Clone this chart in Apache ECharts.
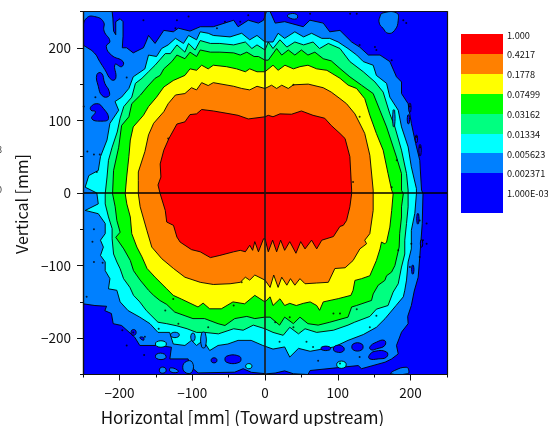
<!DOCTYPE html>
<html><head><meta charset="utf-8">
<style>html,body{margin:0;padding:0;background:#fff}#c{width:548px;height:426px}</style>
<script src="https://cdn.jsdelivr.net/npm/echarts@6/dist/echarts.min.js"></script>
</head><body><div id="c"></div>
<script>
const majorTicks=[-200,-100,0,100,200];
const minorTicks=[-250,-150,-50,50,150,250];
const legendLabels=['1.000','0.4217','0.1778','0.07499','0.03162','0.01334','0.005623','0.002371','1.000E-03'];
const legendColors=['#ff0000','#ff8000','#ffff00','#00ff00','#00ff80','#00ffff','#0080ff','#0000ff'];
const contourAzure=[[-250,250],[-210,250],[-209,241],[-208,223],[-205,218],[-205,236],[-199,240],[-195,236],[-195,216],[-196,200],[-190,200],[-181,193],[-167,200],[-163,209],[-160,217],[-151,206],[-139,224],[-126,222],[-119,227],[-103,223],[-89,229],[-71,229],[-43,238],[-37,229],[-23,238],[-9,234],[-2,238],[2,250],[7,250],[14,234],[27,236],[52.5,229],[61.7,238],[80,234],[89,222],[103,224],[119,208],[130,201],[142,190],[158,190],[171.5,181],[180.6,160],[187.5,153],[187.5,137],[196.6,123],[201,96],[207,68],[212.6,45],[215,4],[217,-1],[216,-42],[212.6,-88],[210.4,-116],[205,-135],[201,-155],[196,-170],[196.6,-180],[187.5,-191.7],[180.6,-210],[183,-221.6],[174,-228.5],[165,-233],[132.6,-242],[128,-237.7],[62,-244.5],[59,-250],[39,-249],[27,-245],[14,-248],[2,-249],[-18.7,-247],[-30,-242],[-41.6,-246.8],[-92,-247.8],[-98.7,-242],[-103,-237.7],[-105.6,-228.5],[-130.7,-228.5],[-128.5,-212.4],[-147,-210],[-172,-210],[-179,-198.6],[-197,-182.5],[-208.5,-180],[-211,-166],[-220,-162],[-217.6,-156],[-233.6,-155],[-250,-152.6]];
const contourCyan=[[0,208],[11,208],[18,220],[27,213],[41,222],[53,215],[64,220],[78,213],[89,213],[100.5,208],[114,199],[126,190],[135,181],[148.6,176],[153,162],[167,151],[171.5,132],[183,114],[187.5,91],[196.6,63.5],[201,36],[208,6],[208,-1],[205.8,-28],[201,-51.5],[201,-77],[196.6,-95],[194.4,-120],[192,-134],[190,-143],[180,-155],[165,-173],[153,-185],[135,-195],[114,-203],[95,-212],[62,-218],[46,-214],[34,-226],[27,-212],[11,-215],[-3,-210],[-19,-203],[-37,-203],[-51,-208],[-64.5,-210],[-76,-217],[-85,-203],[-94,-210],[-101,-203],[-110,-210],[-126,-208],[-131,-192],[-147,-192],[-158,-180],[-172,-171],[-188,-162],[-199,-150],[-203.5,-134],[-215,-132],[-213,-118],[-219.5,-107],[-219.5,-95],[-226,-86],[-222,-74.5],[-226,-65],[-219.5,-56],[-219.5,-42],[-229,-28.5],[-247,-24],[-229,-15],[-231,0],[-247,8],[-242,24],[-229,31],[-226,50],[-217,73],[-213,96],[-201,114],[-206,126],[-197,132],[-187,144],[-181,160],[-165,171],[-160,190],[-149,188],[-142,199],[-133,204],[-123,213],[-112,206],[-105,217],[-94,211],[-89,222],[-78,220],[-71,217],[-48,215],[-32,220],[-21,211],[-11,217]];
const contourSpring=[[0,197],[4.5,208],[11,199],[20.5,211],[30,201],[41,208],[53,204],[66,208],[75,199],[87,206],[103,199],[116.6,181],[135,167],[151,153],[162.3,139],[171.5,109],[178.4,91],[187.5,59],[194.4,26.7],[196.6,4],[196.6,-1],[196.6,-19],[194.4,-42],[192,-65],[192,-84],[187.5,-102],[183,-125],[176,-136.5],[169,-155],[153,-160],[144,-170],[123,-178],[114,-182],[94,-189],[71,-192],[55,-187],[46,-194],[34,-185],[25,-196],[11,-192],[0,-187],[-16,-182],[-30,-189],[-43,-187],[-64,-194],[-83,-192],[-94,-192],[-107,-187],[-121,-183],[-135,-180],[-147,-178],[-163,-162],[-172,-150],[-180.6,-141],[-185.6,-130],[-194.3,-118],[-199,-104.4],[-203.5,-95],[-208,-84],[-210,-63],[-210,-49],[-215,-33],[-219.5,-15],[-219.5,-1],[-217,22],[-215,45],[-210,63],[-203,84],[-199,103],[-194,119],[-183,132],[-178,151],[-169,158],[-160,167],[-151,176],[-137,192],[-130,192],[-121,204],[-110,194],[-105,206],[-96,197],[-89,210],[-75,206],[-62,206],[-43,204],[-27,208],[-18,199],[-11,204]];
const contourGreen=[[0,183],[4.5,183],[16,199],[23,190],[32,197],[41,190],[50,197],[59,190],[68.5,194],[80,185],[91,182],[103,171.5],[116.6,160],[132.6,148.5],[148.6,137],[157.8,114],[167,91],[180.6,49.6],[187.5,26.7],[187.5,3.7],[190,-1],[187.5,-19],[187.5,-33],[185,-56],[184.3,-74.5],[178.4,-100],[173.8,-109],[167,-114],[164.6,-120.4],[155.5,-127],[148.6,-139],[146.3,-148],[125.8,-155],[119,-157],[114,-171],[89,-178],[73,-182],[59,-180],[48,-171],[39,-180],[27,-171],[20,-182],[7,-171],[-0.5,-171],[-14,-173],[-25,-170],[-41.6,-173],[-55,-182.5],[-64.5,-180],[-83,-173],[-99,-173],[-124,-164],[-135,-153.5],[-144.5,-148],[-153,-141],[-160,-134],[-171.5,-120],[-180.6,-107],[-185,-93],[-194,-77],[-205,-61],[-199,-54],[-203.5,-38],[-205.8,-19],[-209.4,-1],[-208,31],[-201,63],[-197,93],[-187,105],[-183,123],[-171,135],[-162,146],[-151,158],[-144,162],[-139,171],[-128,181],[-121,190],[-110,185],[-103,194],[-94,188],[-89,197],[-75,194],[-62,194],[-43,193],[-34,190],[-25,194],[-15,188],[-9,188]];
const contourYellow=[[0,167],[11,176],[18,169],[27.4,176],[39,171],[48,174],[59,176],[71,171],[85,169],[103,158],[114.3,148.5],[125.8,144],[137,130],[144,107],[153,82],[162.3,59],[169,26.7],[174,3.7],[176,-1],[174,-24],[171.5,-47],[167,-67.6],[164.6,-70],[160,-67.6],[158,-77],[153,-93],[144,-114],[132.6,-118],[123.5,-120.4],[121,-134],[118,-141],[100.6,-145.5],[80,-150],[75,-161.6],[71,-155],[62,-150],[52.6,-152],[43,-155],[34,-152],[27,-155],[20.6,-145.7],[11,-155],[7,-143],[0,-150],[-14,-141],[-28,-152.6],[-44,-150],[-60,-159.5],[-76,-159.5],[-85,-151.7],[-92,-157],[-115,-146],[-126,-141],[-135,-132],[-151,-116],[-162,-104],[-169,-88],[-176,-74.5],[-183,-56],[-185,-33],[-189.8,-15],[-192,-1],[-190,22],[-187,50],[-185,73],[-181,91],[-167,107],[-160,119],[-149,132],[-139,146],[-126,155],[-110,162],[-103,171],[-94,169],[-87,176],[-78,171],[-71,176],[-53,174],[-39,171],[-27,167],[-21,171],[-11,167]];
const contourOrange=[[0,144],[9,148.5],[16,144],[23,148.5],[32,144],[39,149],[59.4,150],[80,145],[91,139],[103,130],[112,123],[123.5,109],[132.6,91],[137,82],[144,52],[148.6,4],[148.6,-1],[148.6,-24],[144,-56],[137,-65],[139.5,-70],[130.3,-77],[121,-93],[110,-103],[96,-104],[87,-123],[71,-124],[55,-125],[48,-118],[41,-127],[35,-118],[30,-127],[23,-116],[18,-130],[12,-113],[7,-130],[0,-120],[-14,-113],[-21,-120],[-27,-116],[-34,-123],[-48,-125],[-71,-126],[-89,-123],[-110,-116],[-125.7,-104],[-141.7,-90.6],[-155.5,-74.5],[-162.3,-51.5],[-171.5,-19],[-174,-1],[-174,17],[-174,29],[-165,57],[-160,80],[-153,96],[-139,112],[-133,123],[-123,135],[-110,137],[-101,145],[-94,142],[-87,152],[-78,148],[-71,152],[-43,147],[-32,144],[-21,142],[-11,147]];
const contourRed=[[0,105],[4.5,107],[11,105],[20.5,109],[36.5,108.5],[50,113],[66,107],[82,103],[91,93],[103,82],[110,75],[116.6,50],[119,4],[119,-1],[116.6,-19],[112,-38],[107.5,-44.6],[103,-46],[94,-60],[78,-65],[71,-77],[64,-65],[55,-77],[49,-67],[42.5,-83],[34,-67],[27,-79],[21.5,-65],[16,-81],[10.5,-65],[4.5,-81],[0,-63],[-2,-63],[-9,-81],[-14,-67],[-17,-79],[-21,-72],[-27,-81],[-34,-79],[-43,-81],[-62,-86],[-75,-89],[-89,-81],[-101,-78],[-116.6,-67.6],[-121,-60.7],[-125.7,-44.6],[-135,-40],[-137,-24],[-144,-1],[-147,11],[-143,22],[-144,40],[-139,59],[-132,75],[-121,95],[-110,98],[-103,108],[-94,109],[-87,115],[-71,113],[-48,109],[-37,107],[-23,102]];
const islandsBlue=[
[[-250,227],[-245,241],[-234,243],[-222,236],[-221,223],[-213,209],[-218,202],[-211,190],[-195,181],[-197,174],[-206,177],[-205,158],[-211,156],[-220,170],[-227,181],[-234.5,193],[-247,202],[-250,204]],
[[-231,163],[-224.5,165],[-220,151],[-214,140],[-215,133],[-223.6,134],[-229,147]],
[[-239,119],[-231,123],[-224,119],[-215,102.5],[-226,99],[-238,102.5],[-233,112],[-239,114]],
[[143,-224],[151,-218],[167,-219],[167,-226],[155.5,-228.5],[144,-228.5]],
[[144,-212],[153,-205.5],[164,-203],[164.6,-210],[153,-214.7],[146,-216]],
[[121,-208],[133,-208],[133,-216],[121,-216]],
[[94,-215],[98,-210],[107.5,-212],[107.5,-218],[98,-219]],
[[78,-212],[89,-212],[89,-216],[78,-216]],
[[209,-29],[211,-29],[211,-42],[209,-42]],
[[214,-65],[216,-65],[216,-74],[214,-74]],
[[202,-100],[204,-100],[204,-111],[202,-111]],
[[196,107],[198,107],[198,96],[196,96]],
[[198,123],[200,123],[200,112],[198,112]],
[[207,79],[209,79],[209,70],[207,70]],
[[212,66],[214,66],[214,52],[212,52]],
[[-53,-225],[-35,-225],[-35,-233],[-53,-233]],
[[-73,-228],[-67,-228],[-67,-233],[-73,-233]],
[[-183,-189],[-178,-189],[-178,-195],[-183,-195]],
[[-172,-199],[-167,-199],[-167,-203]]];
const islandsAzure=[
[[158,243],[162,248],[180.6,248],[183,238],[178,224],[169,220],[162,227],[157,234]],
[[32,246],[43.4,246],[43.4,240],[32,242]],
[[173,-249],[178,-244.5],[194,-240],[197.5,-244.5],[195.7,-249]],
[[-113,-240],[-108,-232],[-100,-233],[-100,-246],[-108,-248]],
[[176,114],[178,114],[178,92],[176,92]],
[[-128.5,-193],[-119,-193],[-119,-198],[-128.5,-198]],
[[-87,-193],[-82,-193],[-82,-212],[-87,-212]],
[[-101,-194],[-97,-194],[-97,-203],[-101,-203]],
[[-149,-222],[-138,-222],[-137,-228],[-149,-228]],
[[-144,-241],[-137,-241],[-137,-247],[-144,-247]],
[[-130,-241],[-120,-244],[-120,-247],[-130,-246]]];
const islandsCyan=[
[[-149,-205],[-137,-205],[-137,-211],[-149,-211]],
[[-25.5,-236],[-19,-236],[-19,-241],[-25.5,-241]],
[[100,-233],[110,-233],[110,-240],[100,-240]]];
const specks=[[-244,57],[-235,53],[-227,53],[-231,29],[-190,159],[-233,132],[-249,119],[-235,-50],[-237,-67],[-223,-96],[-235,-95],[-245,-143],[-190,-210],[-166,-223],[-196,-189],[-165,-198],[-181,-192],[-126,-146],[-137,-162],[-119,-180],[-146,-187],[-78,-185],[-43,-155],[-32,-123],[103,-166],[94,-166],[34,-171],[14,-178],[20,-205],[39,-185],[57,-205],[66,-212],[73,-231],[103,-235],[130,-226],[153,-169],[144,-185],[126,-160],[212.5,-38],[217,-65],[212.5,-88],[201,-70],[199,-102],[222,-42],[222,-70],[183,-79],[213,63],[208,77],[199,119],[151,201],[153,197],[190,238],[130,204],[62,247],[117,247],[126,247],[194,234],[174,183],[181,45],[174,8],[121,15],[39,149],[130,105],[-133,75],[-167,238],[-105,243],[-121,238],[-123,227],[-55,236],[-34,236],[-23,245],[-66,227]];
const crossH=[[-250,0],[250,0]];
const crossV=[[0,-250],[0,250]];

const font='"Noto Sans CJK JP"';
const layers=[[contourAzure,'#0080ff',0],[contourCyan,'#00ffff',0],[contourSpring,'#00ff80',0],[contourGreen,'#00ff00',0],[contourYellow,'#ffff00',0],[contourOrange,'#ff8000',0],[contourRed,'#ff0000',0]];
islandsBlue.forEach(p=>layers.push([p,'#0000ff',0.5]));
islandsAzure.forEach(p=>layers.push([p,'#0080ff',0.5]));
islandsCyan.forEach(p=>layers.push([p,'#00ffff',0.5]));
const fmt=v=>v<0?'\u2212'+(-v):String(v);
const series=[{
 type:'custom',coordinateSystem:'cartesian2d',silent:true,clip:true,z:2,
 data:layers.map((l,i)=>[i]),
 renderItem:(params,api)=>{const l=layers[api.value(0)];
  return {type:'polygon',shape:{points:l[0].map(p=>api.coord(p)),smooth:l[2]},style:{fill:l[1],stroke:'#000',lineWidth:0.9}};},
 animation:false
},{
 type:'scatter',data:specks,symbolSize:2,itemStyle:{color:'#000'},silent:true,z:3,animation:false
},{
 type:'line',data:crossH,symbol:'none',lineStyle:{color:'#000',width:1.3},silent:true,z:4,animation:false
},{
 type:'line',data:crossV,symbol:'none',lineStyle:{color:'#1a1a1a',width:1.6},silent:true,z:4,animation:false
}];
const legendTops=[34,54,74,94,114,134,153,173,213];
const labelY=[35.3,54.5,74.5,94.5,114.5,134.5,154.5,173.5,193.3];
const graphic=[];
legendColors.forEach((c,i)=>graphic.push({type:'rect',shape:{x:461,y:legendTops[i],width:42,height:legendTops[i+1]-legendTops[i]},style:{fill:c}}));
legendLabels.forEach((t,i)=>graphic.push({type:'text',x:507,y:labelY[i],style:{text:t,fill:'#111',font:'9.2px '+font,textVerticalAlign:'middle'}}));
graphic.push({type:'text',x:242.5,y:418,style:{text:'Horizontal [mm] (Toward upstream)',fill:'#111',font:'17px '+font,textAlign:'center',textVerticalAlign:'middle'}});
graphic.push({type:'text',x:22,y:204,rotation:Math.PI/2,style:{text:'Vertical [mm]',fill:'#111',font:'16px '+font,textAlign:'center',textVerticalAlign:'middle'}});
[['8',150],['l',170],['0',190]].forEach(f=>graphic.push({type:'text',x:-3,y:f[1],style:{text:f[0],fill:'#333',font:'9px '+font,textVerticalAlign:'middle'}}));
const baseAxis=(pos,extra)=>Object.assign({type:'value',min:-250,max:250,interval:50,position:pos,splitLine:{show:false},z:10,
  axisLine:{show:true,onZero:false,lineStyle:{color:'#111',width:1.2}},axisLabel:{show:false},axisTick:{show:false}},extra||{});
const mainExtra=m=>({axisTick:{show:true,customValues:majorTicks,length:6,lineStyle:{color:'#111',width:1}},
  axisLabel:{show:true,customValues:majorTicks,formatter:fmt,color:'#111',fontFamily:font,fontSize:13.5,margin:m}});
const minorExtra={axisTick:{show:true,customValues:minorTicks,length:3,lineStyle:{color:'#111',width:1}}};
const chart=echarts.init(document.getElementById('c'),null,{renderer:'canvas'});
chart.setOption({animation:false,backgroundColor:'#fff',
 grid:{left:83,top:11.5,width:364,height:363,show:true,backgroundColor:'#0000ff',borderWidth:0},
 xAxis:[baseAxis('bottom',mainExtra(12)),baseAxis('bottom',minorExtra),baseAxis('top')],
 yAxis:[baseAxis('left',mainExtra(12)),baseAxis('left',minorExtra),baseAxis('right')],
 series:series,graphic:graphic});
</script></body></html>
